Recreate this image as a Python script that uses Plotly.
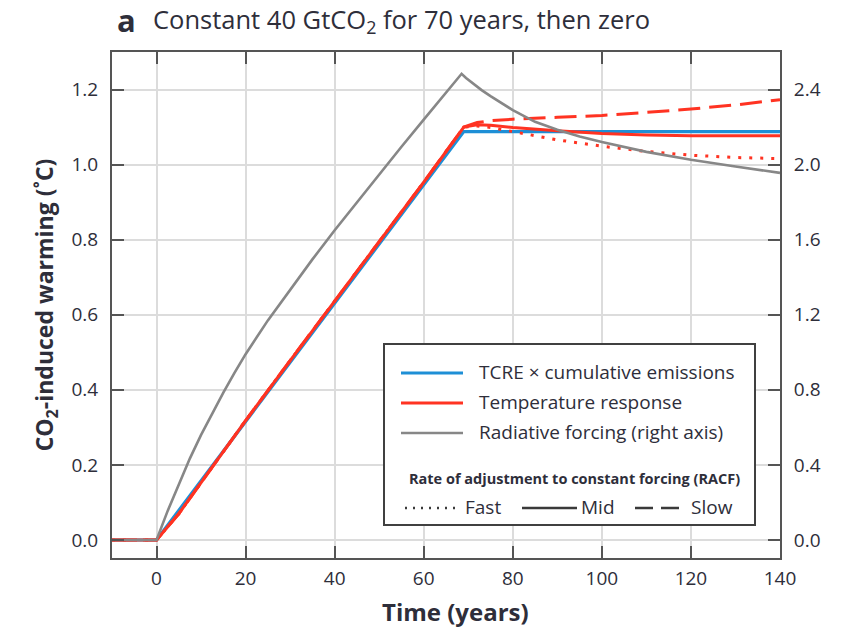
import plotly.graph_objects as go

# ---------------- data ----------------
t_tcre = [-10, 0, 69, 140]
tcre = [0, 0, 1.088, 1.088]

t_temp = [-10, 0, 5, 10, 20, 30, 40, 50, 60, 69, 72, 75, 80, 90, 100, 110, 120, 130, 140]
temp_mid = [0, 0, 0.070, 0.152, 0.318, 0.478, 0.637, 0.795, 0.953, 1.100, 1.106, 1.105, 1.099,
            1.090, 1.083, 1.079, 1.077, 1.077, 1.077]
temp_fast = [0, 0, 0.070, 0.152, 0.318, 0.478, 0.637, 0.795, 0.953, 1.100, 1.103, 1.099, 1.088,
             1.066, 1.049, 1.035, 1.025, 1.019, 1.016]
temp_slow = [0, 0, 0.070, 0.152, 0.318, 0.478, 0.637, 0.795, 0.953, 1.100, 1.112, 1.117, 1.121,
             1.126, 1.131, 1.139, 1.148, 1.159, 1.173]

t_rf = [-10, 0, 2.5, 5, 7.5, 10, 12.5, 15, 17.5, 20, 25, 30, 35, 40, 45, 50, 55, 60, 65, 68.5,
        69.5, 71, 73, 75, 77.5, 80, 85, 90, 95, 100, 110, 120, 130, 140]
rf = [0, 0, 0.155, 0.30, 0.435, 0.56, 0.675, 0.785, 0.89, 0.99, 1.17, 1.335, 1.495, 1.65, 1.80,
      1.95, 2.095, 2.24, 2.38, 2.484, 2.462, 2.432, 2.397, 2.365, 2.326, 2.29, 2.228, 2.186,
      2.15, 2.12, 2.068, 2.026, 1.99, 1.956]

x_ticks = [0, 20, 40, 60, 80, 100, 120, 140]
y_ticks = [0.0, 0.2, 0.4, 0.6, 0.8, 1.0, 1.2]
y2_ticks = [0.0, 0.4, 0.8, 1.2, 1.6, 2.0, 2.4]

# ---------------- styling ----------------
W, H = 846, 631
ML, MR, MT, MB = 112, 66, 52, 73
PW, PH = W - ML - MR, H - MT - MB
FONT = "Open Sans"
TXT = "#2e2e3a"
AX = "#555555"
GRID = "#dcdcdc"
BLUE = "#1e8fd6"
RED = "#ff3322"
GRAY = "#878787"
DARK = "#3a3a3a"


def px(x):
    return (x - ML) / PW


def py(y):
    return (H - MB - y) / PH


fig = go.Figure()
fig.add_trace(go.Scatter(x=t_tcre, y=tcre, mode="lines", line=dict(color=BLUE, width=3.2),
                         name="TCRE × cumulative emissions", showlegend=False))
fig.add_trace(go.Scatter(x=t_temp, y=temp_mid, mode="lines", line=dict(color=RED, width=3),
                         name="Temperature response (Mid)", showlegend=False))
fig.add_trace(go.Scatter(x=t_temp, y=temp_fast, mode="lines",
                         line=dict(color=RED, width=3, dash="3px,8px"),
                         name="Temperature response (Fast)", showlegend=False))
fig.add_trace(go.Scatter(x=t_temp, y=temp_slow, mode="lines",
                         line=dict(color=RED, width=3, dash="22px,9px"),
                         name="Temperature response (Slow)", showlegend=False))
fig.add_trace(go.Scatter(x=t_rf, y=rf, mode="lines", line=dict(color=GRAY, width=2.6),
                         name="Radiative forcing (right axis)", yaxis="y2", showlegend=False))

axis_common = dict(
    ticks="inside", ticklen=12, tickwidth=2, tickcolor=AX,
    showline=True, linecolor=AX, linewidth=2,
    tickfont=dict(family=FONT, size=19, color=TXT),
    zeroline=False,
)

fig.update_layout(
    width=W, height=H,
    margin=dict(l=ML, r=MR, t=MT, b=MB, autoexpand=False),
    paper_bgcolor="white", plot_bgcolor="white",
    showlegend=False,
    font=dict(family=FONT, color=TXT),
    xaxis=dict(range=[-10, 140], tickvals=x_ticks, mirror="ticks",
               showgrid=True, gridcolor=GRID, gridwidth=1.5,
               ticklabelstandoff=2,
               **axis_common),
    yaxis=dict(range=[-0.048, 1.3], tickvals=y_ticks, tickformat=".1f",
               showgrid=True, gridcolor=GRID, gridwidth=1.5,
               title=dict(text="<b>CO<sub>2</sub>-induced warming (˚C)</b>",
                          font=dict(family=FONT, size=23, color=TXT), standoff=11),
               ticklabelstandoff=8,
               **axis_common),
    yaxis2=dict(range=[-0.096, 2.6], tickvals=y2_ticks, tickformat=".1f",
                overlaying="y", side="right", showgrid=False,
                ticklabelstandoff=8,
                **axis_common),
)

# x-axis title
fig.add_annotation(x=px(455), y=py(611), xref="paper", yref="paper", xanchor="center",
                   yanchor="middle", showarrow=False,
                   text="<b>Time (years)</b>", font=dict(family=FONT, size=24, color=TXT))

# Title
fig.add_annotation(x=px(115), y=py(20), xref="paper", yref="paper", xanchor="left",
                   yanchor="middle", showarrow=False,
                   text="<b>a</b>", font=dict(family=FONT, size=31, color=TXT))
fig.add_annotation(x=px(151), y=py(21), xref="paper", yref="paper", xanchor="left",
                   yanchor="middle", showarrow=False,
                   text="Constant 40 GtCO<sub>2</sub> for 70 years, then zero",
                   font=dict(family=FONT, size=25.5, color=TXT))

# Legend box (key)
fig.add_shape(type="rect", xref="paper", yref="paper", x0=px(384), x1=px(755), y0=py(525),
              y1=py(344), line=dict(color="#404040", width=2), fillcolor="white", layer="above")


def key_line(x0, x1, y, color, width, dash="solid"):
    fig.add_shape(type="line", xref="paper", yref="paper", x0=px(x0), x1=px(x1), y0=py(y),
                  y1=py(y), line=dict(color=color, width=width, dash=dash), layer="above")


def key_text(x, y, text, size=19, anchor="left", bold=False):
    fig.add_annotation(x=px(x), y=py(y), xref="paper", yref="paper", xanchor=anchor,
                       yanchor="middle", showarrow=False,
                       text=f"<b>{text}</b>" if bold else text,
                       font=dict(family=FONT, size=size, color=TXT))


key_line(401, 463, 373, BLUE, 3.2)
key_text(477, 372, "TCRE × cumulative emissions")
key_line(401, 463, 403, RED, 3)
key_text(477, 402, "Temperature response")
key_line(401, 463, 433, GRAY, 2.6)
key_text(477, 432, "Radiative forcing (right axis)")
key_text(574, 478, "Rate of adjustment to constant forcing (RACF)", size=14.5, anchor="center",
         bold=True)
key_line(405, 460, 508, DARK, 2.4, "2px,6px")
key_text(463, 507, "Fast")
key_line(522, 577, 508, DARK, 2.4)
key_text(579, 507, "Mid")
key_line(635, 686, 508, DARK, 2.4, "18px,8px")
key_text(689, 507, "Slow")

fig.write_html("out.html")
